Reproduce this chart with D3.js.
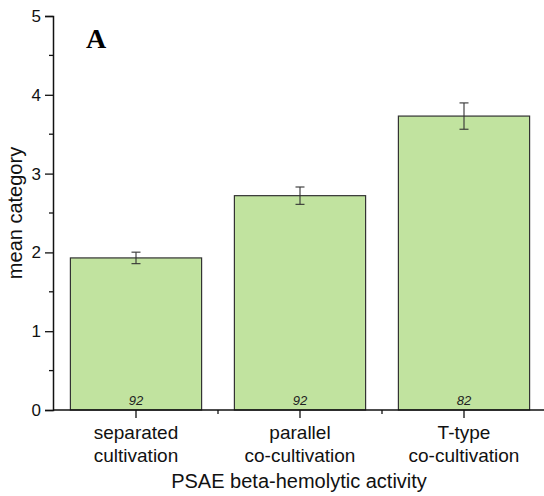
<!DOCTYPE html>
<html><head><meta charset="utf-8">
<script src="https://cdn.jsdelivr.net/npm/d3@7"></script>
<style>body{margin:0;background:#fff}svg{display:block}</style>
</head><body>
<script>
const categories = [["separated","cultivation"],["parallel","co-cultivation"],["T-type","co-cultivation"]];
const means = [1.93, 2.72, 3.73];
const errors = [0.073, 0.11, 0.167];
const counts = ["92","92","82"];
const yTicks = [0,1,2,3,4,5];
const yMinor = [0.5,1.5,2.5,3.5,4.5];

const W=544,H=496;
const svg=d3.select("body").append("svg").attr("width",W).attr("height",H);
const x0=54,x1=546,yTop=16,yBot=410;
const keys=categories.map((d,i)=>i);
const x=d3.scaleBand().domain(keys).range([x0,x1]).paddingInner(0.2).paddingOuter(0.1);
const xc=d3.scalePoint().domain(keys).range([x0,x1]).padding(0.5);
const y=d3.scaleLinear().domain([0,5]).range([yBot,yTop]);
const font="Arial, 'Liberation Sans', sans-serif";

// bars
svg.selectAll("rect.bar").data(means).join("rect")
  .attr("x",(d,i)=>xc(i)-x.bandwidth()/2).attr("width",x.bandwidth())
  .attr("y",d=>y(d)).attr("height",d=>y(0)-y(d))
  .attr("fill","#c1e39f").attr("stroke","#333").attr("stroke-width",1.2);

// error bars
const cap=4.5;
const eg=svg.selectAll("g.err").data(means).join("g").attr("stroke","#333").attr("stroke-width",1.1);
eg.append("line").attr("x1",(d,i)=>xc(i)).attr("x2",(d,i)=>xc(i)).attr("y1",(d,i)=>y(d+errors[i])).attr("y2",(d,i)=>y(d-errors[i]));
eg.append("line").attr("x1",(d,i)=>xc(i)-cap).attr("x2",(d,i)=>xc(i)+cap).attr("y1",(d,i)=>y(d+errors[i])).attr("y2",(d,i)=>y(d+errors[i]));
eg.append("line").attr("x1",(d,i)=>xc(i)-cap).attr("x2",(d,i)=>xc(i)+cap).attr("y1",(d,i)=>y(d-errors[i])).attr("y2",(d,i)=>y(d-errors[i]));

// counts
svg.selectAll("text.cnt").data(counts).join("text")
  .attr("x",(d,i)=>xc(i)).attr("y",yBot-5).attr("text-anchor","middle")
  .attr("font-family",font).attr("font-style","italic").attr("font-size",13).attr("fill","#222").text(d=>d);

// y axis
const ya=svg.append("g").attr("transform",`translate(${x0-1},0)`)
  .call(d3.axisLeft(y).tickValues(yTicks).tickFormat(d3.format("d")).tickSize(8).tickPadding(4));
ya.select(".domain").attr("stroke","#111").attr("stroke-width",1.5);
ya.selectAll(".tick line").attr("stroke","#111").attr("stroke-width",1.3);
ya.selectAll("text").attr("font-family",font).attr("font-size",17).attr("fill","#111");
svg.append("g").selectAll("line").data(yMinor).join("line")
  .attr("x1",x0-5).attr("x2",x0-1).attr("y1",d=>y(d)).attr("y2",d=>y(d)).attr("stroke","#111").attr("stroke-width",1.3);

// x axis
svg.append("line").attr("x1",x0-1).attr("x2",W).attr("y1",yBot).attr("y2",yBot).attr("stroke","#111").attr("stroke-width",1.5);
svg.append("g").selectAll("line").data(keys).join("line")
  .attr("x1",d=>xc(d)).attr("x2",d=>xc(d)).attr("y1",yBot).attr("y2",yBot+8).attr("stroke","#111").attr("stroke-width",1.3);
const minorX=keys.slice(1).map(i=>(xc(i-1)+xc(i))/2);
svg.append("g").selectAll("line").data(minorX).join("line")
  .attr("x1",d=>d).attr("x2",d=>d).attr("y1",yBot).attr("y2",yBot+4).attr("stroke","#111").attr("stroke-width",1.3);

// x labels
const xl=svg.selectAll("text.xl").data(categories).join("text")
  .attr("text-anchor","middle").attr("font-family",font).attr("font-size",19).attr("fill","#111");
xl.each(function(d,i){
  d3.select(this).selectAll("tspan").data(d).join("tspan")
    .attr("x",xc(i)).attr("y",(t,j)=>439+j*23).text(t=>t);
});

svg.append("text").attr("x",299).attr("y",488).attr("text-anchor","middle")
  .attr("font-family",font).attr("font-size",20).attr("fill","#111").text("PSAE beta-hemolytic activity");
svg.append("text").attr("transform",`translate(22,${(yTop+yBot)/2}) rotate(-90)`).attr("text-anchor","middle")
  .attr("font-family",font).attr("font-size",20).attr("fill","#111").text("mean category");
svg.append("text").attr("x",86).attr("y",48).attr("font-family","'Times New Roman','Liberation Serif',serif")
  .attr("font-weight","bold").attr("font-size",28).attr("fill","#000").text("A");
</script>
</body></html>
